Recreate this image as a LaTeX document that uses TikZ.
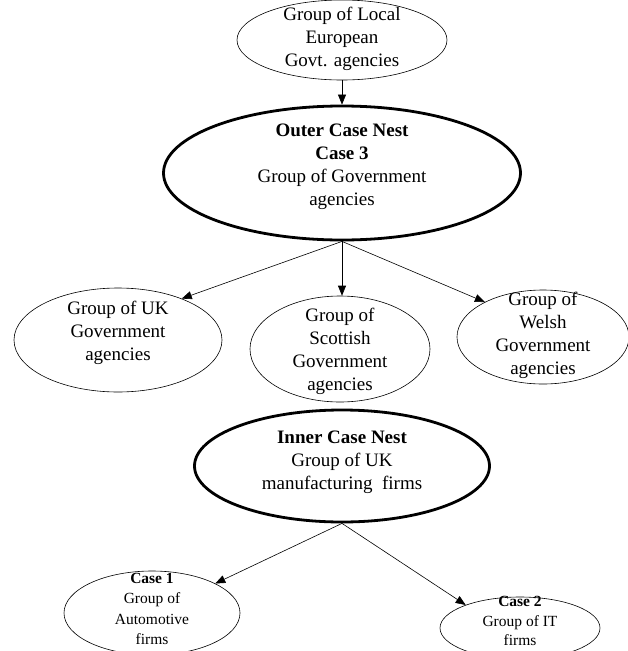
\documentclass[tikz,border=0pt]{standalone}
\usepackage{fontspec}
\setmainfont{Liberation Serif}
\usetikzlibrary{shapes.geometric,arrows.meta}
\begin{document}
\begin{tikzpicture}[x=1pt,y=-1pt,
  oval/.style={draw,ellipse,inner sep=0pt,line width=0.6pt},
  thickoval/.style={oval,line width=2.8pt},
  txt/.style={align=center,font=\fontsize{19}{23}\selectfont,inner sep=0pt},
  smalltxt/.style={align=center,font=\fontsize{15.5}{20.5}\selectfont,inner sep=0pt},
  conn/.style={-{Triangle[length=10pt,width=8pt]},line width=0.6pt}]
\useasboundingbox (0,0) rectangle (627,651);

% ellipses
\node[oval,minimum width=210pt,minimum height=80pt] (local) at (342,40) {};
\node[thickoval,minimum width=357pt,minimum height=134pt] (outer) at (342,173) {};
\node[oval,minimum width=208pt,minimum height=104pt] (uk) at (118,340) {};
\node[oval,minimum width=180pt,minimum height=106pt] (scot) at (340,349) {};
\node[oval,minimum width=172pt,minimum height=94pt] (welsh) at (543,337) {};
\node[thickoval,minimum width=295pt,minimum height=112pt] (inner) at (342,466) {};
\node[oval,minimum width=176pt,minimum height=84pt] (case1) at (152,613) {};
\node[oval,minimum width=160pt,minimum height=62pt] (case2) at (520,628) {};

% texts
\node[txt] (localtxt) at (342,39) {Group of Local\\European\\Govt. agencies};
\node[txt] (outertxt) at (342,167) {\textbf{Outer Case Nest}\\\textbf{Case 3}\\Group of Government\\agencies};
\node[txt] (uktxt) at (118,333) {Group of UK\\Government\\agencies};
\node[txt] (scottxt) at (340,351) {Group of\\Scottish\\Government\\agencies};
\node[txt] (welshtxt) at (543,335) {Group of\\Welsh\\Government\\agencies};
\node[txt] (innertxt) at (342,462) {\textbf{Inner Case Nest}\\Group of UK\\manufacturing\ \ firms};
\node[smalltxt] (case1txt) at (152,609) {\textbf{Case 1}\\Group of\\Automotive\\firms};
\node[smalltxt,font=\fontsize{15.5}{19.5}\selectfont] (case2txt) at (520,621) {\textbf{Case 2}\\Group of IT\\firms};

% connectors
\draw[conn] (local.south) -- (outer.north);
\draw[conn] (outer.south) -- (uk.33);
\draw[conn] (outer.south) -- (outer.south |- scot.north);
\draw[conn] (outer.south) -- (welsh.149);
\draw[conn] (inner.south) -- (case1.25);
\draw[conn] (inner.south) -- (case2.157);
\end{tikzpicture}
\end{document}
